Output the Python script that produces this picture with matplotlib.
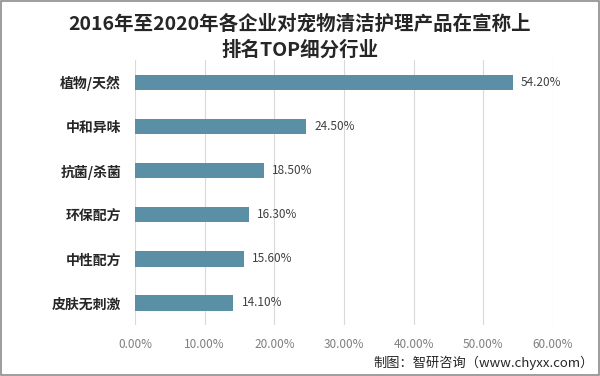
import matplotlib
matplotlib.use("Agg")
import matplotlib.pyplot as plt
from matplotlib.patches import Rectangle

plt.rcParams['font.family'] = ['Noto Sans CJK SC', 'DejaVu Sans']

categories = ["植物/天然", "中和异味", "抗菌/杀菌", "环保配方", "中性配方", "皮肤无刺激"]
values = [54.2, 24.5, 18.5, 16.3, 15.6, 14.1]
xticks = [0, 10, 20, 30, 40, 50, 60]
title = "2016年至2020年各企业对宠物清洁护理产品在宣称上\n排名TOP细分行业"
source = "制图：智研咨询（www.chyxx.com）"

fig = plt.figure(figsize=(6, 3.76), dpi=100)
ax = fig.add_axes([0.225, 0.1356, 0.6967, 0.7044])

ypos = list(range(len(categories)))
ax.barh(ypos, values, height=0.35, color="#5b8fa6", zorder=3)
for y, v in zip(ypos, values):
    ax.text(v + 1.2, y, f"{v:.2f}%", va="center", ha="left", fontsize=8.5, color="#404040", zorder=4)

ax.set_yticks(ypos)
ax.set_yticklabels(categories, fontsize=10, fontweight="bold", color="#262626")
ax.set_ylim(len(categories) - 0.5, -0.5)
ax.set_xlim(0, 60)
ax.set_xticks(xticks)
ax.set_xticklabels([f"{t:.2f}%" for t in xticks], fontsize=8.5, color="#7f7f7f")
ax.tick_params(axis="both", length=0)
ax.tick_params(axis="x", pad=9)
ax.tick_params(axis="y", pad=10)
ax.grid(axis="x", color="#d9d9d9", linewidth=0.8, zorder=0)
for s in ax.spines.values():
    s.set_visible(False)

fig.text(0.5, 0.902, title, ha="center", va="center", fontsize=14, fontweight="bold",
         color="#262626", linespacing=1.45)
fig.text(0.99, 0.015, source, ha="right", va="bottom", fontsize=9.5, color="#262626")

fig.patches.append(Rectangle((0.002, 0.003), 0.996, 0.994, transform=fig.transFigure,
                             fill=False, edgecolor="#8c8c8c", linewidth=1.2))

fig.savefig("out.png", dpi=100)
